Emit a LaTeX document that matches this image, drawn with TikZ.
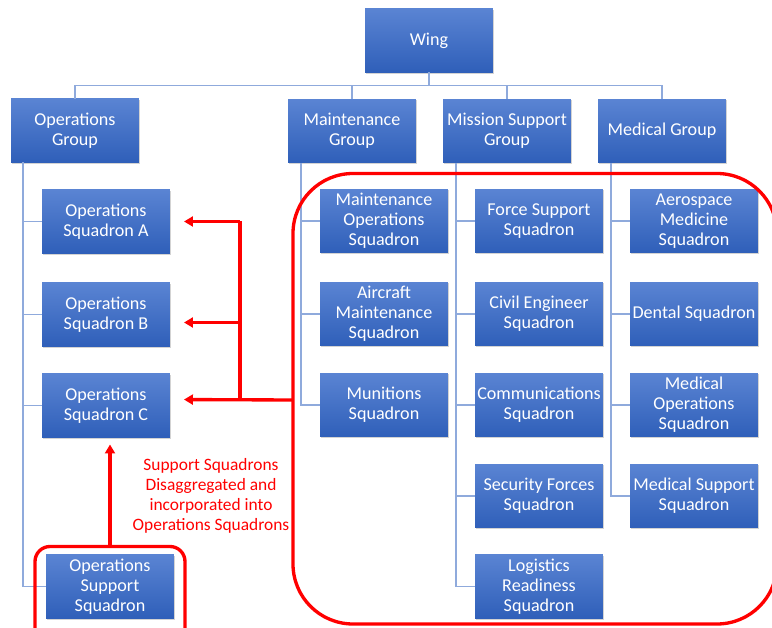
\documentclass[tikz,border=0pt]{standalone}
\usepackage{fontspec}
\setmainfont{Carlito}
\usetikzlibrary{calc,shadows,arrows.meta}

\definecolor{boxtop}{HTML}{5A84D3}
\definecolor{boxbot}{HTML}{2F5FB9}
\definecolor{orgblue}{HTML}{8FAADC}

\tikzset{
  unit/.style={top color=boxtop, bottom color=boxbot, text=white,
    minimum width=2.56cm, minimum height=1.28cm, inner sep=0pt, outer sep=0pt,
    align=center, font=\fontsize{10.3}{11.4}\selectfont,
    drop shadow={opacity=0.35, shadow xshift=0.8pt, shadow yshift=-0.8pt}},
  orgline/.style={draw=orgblue, line width=0.6pt},
  redline/.style={draw=red, line width=1.9pt},
  redarrow/.style={redline, -{Triangle[length=0.18cm,width=0.2cm]}},
  redframe/.style={redline}
}

\begin{document}
\begin{tikzpicture}[x=0.02cm,y=-0.02cm]
\clip (0,0) rectangle (772,628);

% top levels
\node[unit] (wing) at (429,40.5) {Wing};
\node[unit] (opsgrp) at (75,130.5) {Operations\\Group};
\node[unit] (mxgrp) at (352,131) {Maintenance\\Group};
\node[unit] (msgrp) at (507,131) {Mission Support\\Group};
\node[unit] (mdgrp) at (662,131) {Medical Group};

% squadrons
\node[unit] (opsA) at (106,221.5) {Operations\\Squadron A};
\node[unit] (opsB) at (106,314.5) {Operations\\Squadron B};
\node[unit] (opsC) at (106,405.5) {Operations\\Squadron C};
\node[unit] (oss) at (110,586.5) {Operations\\Support\\Squadron};

\node[unit] (mos) at (384,221) {Maintenance\\Operations\\Squadron};
\node[unit] (amx) at (384,314) {Aircraft\\Maintenance\\Squadron};
\node[unit] (mun) at (384,405) {Munitions\\Squadron};

\node[unit] (fss) at (539,221) {Force Support\\Squadron};
\node[unit] (ces) at (539,314) {Civil Engineer\\Squadron};
\node[unit] (cs) at (539,405) {Communications\\Squadron};
\node[unit] (sfs) at (539,496) {Security Forces\\Squadron};
\node[unit] (lrs) at (539,586.5) {Logistics\\Readiness\\Squadron};

\node[unit] (ams) at (694,221) {Aerospace\\Medicine\\Squadron};
\node[unit] (dent) at (694,314) {Dental Squadron};
\node[unit] (mdos) at (694,405) {Medical\\Operations\\Squadron};
\node[unit] (mdss) at (694,496) {Medical Support\\Squadron};

% wing to groups
\coordinate (bus) at (429,85.5);
\draw[orgline] (wing.south) -- (bus);
\draw[orgline] (opsgrp.north) |- (bus) -| (mdgrp.north);
\draw[orgline] (mxgrp.north) -- (mxgrp.north |- bus);
\draw[orgline] (msgrp.north) -- (msgrp.north |- bus);

% group spines
\coordinate (opsspine) at ($(opsgrp.south west)+(12,0)$);
\coordinate (mxspine) at ($(mxgrp.south west)+(13,0)$);
\coordinate (msspine) at ($(msgrp.south west)+(13,0)$);
\coordinate (mdspine) at ($(mdgrp.south west)+(13,0)$);
\draw[orgline] (opsspine) |- (oss.west);
\draw[orgline] (mxspine) |- (mun.west);
\draw[orgline] (msspine) |- (lrs.west);
\draw[orgline] (mdspine) |- (mdss.west);
\foreach \n in {opsA,opsB,opsC}
  \draw[orgline] (opsspine |- \n.west) -- (\n.west);
\foreach \n in {mos,amx}
  \draw[orgline] (mxspine |- \n.west) -- (\n.west);
\foreach \n in {fss,ces,cs,sfs}
  \draw[orgline] (msspine |- \n.west) -- (\n.west);
\foreach \n in {ams,dent,mdos}
  \draw[orgline] (mdspine |- \n.west) -- (\n.west);

% red overlay
\draw[redframe, rounded corners=1.2cm] (293,173.5) rectangle (777,624);
\draw[redframe, rounded corners=0.3cm] (35,546.5) rectangle (185,650);
\coordinate (supp) at (293,400);
\coordinate (trunk) at (240,400);
\coordinate (ossframe) at (110,546.5);
\draw[redarrow, shorten >=0.28cm] (supp) -- ($(opsC.east)+(0,-6)$);
\draw[redline] (trunk) -- (trunk |- opsA.east);
\draw[redarrow, shorten >=0.28cm] (trunk |- opsA.east) -- (opsA.east);
\draw[redarrow, shorten >=0.28cm] ($(trunk |- opsB.east)+(0,8)$) -- ($(opsB.east)+(0,8)$);
\draw[redarrow, shorten >=0.14cm] (ossframe) -- (ossframe |- opsC.south);
\node[text=red, align=center, font=\fontsize{9.9}{11.4}\selectfont] (note) at (211,495.5)
  {Support Squadrons\\Disaggregated and\\incorporated into\\Operations Squadrons};
\end{tikzpicture}
\end{document}
